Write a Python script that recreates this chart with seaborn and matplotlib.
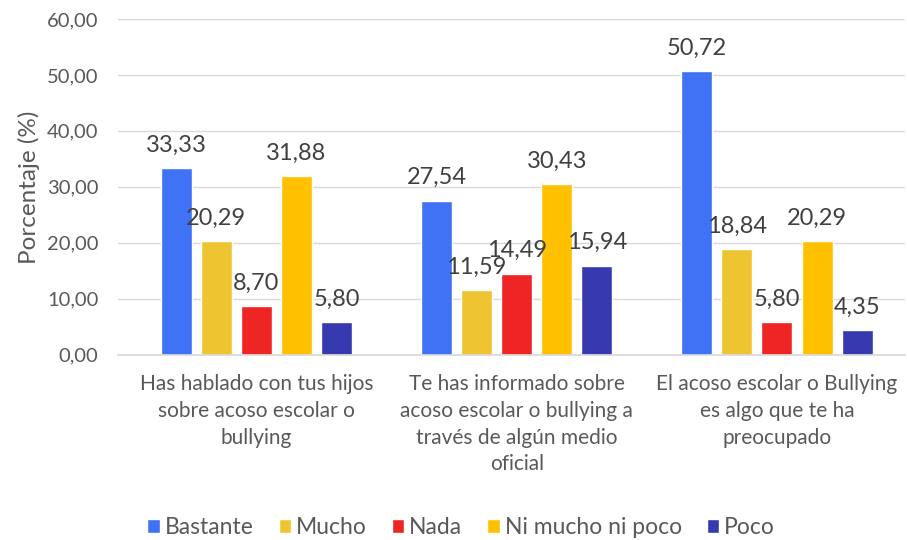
import pandas as pd
import matplotlib.pyplot as plt
import seaborn as sns

preguntas = [
    "Has hablado con tus hijos\nsobre acoso escolar o\nbullying",
    "Te has informado sobre\nacoso escolar o bullying a\ntravés de algún medio\noficial",
    "El acoso escolar o Bullying\nes algo que te ha\npreocupado",
]
respuestas = ["Bastante", "Mucho", "Nada", "Ni mucho ni poco", "Poco"]
bastante = [33.33, 27.54, 50.72]
mucho = [20.29, 11.59, 18.84]
nada = [8.70, 14.49, 5.80]
ni_mucho_ni_poco = [31.88, 30.43, 20.29]
poco = [5.80, 15.94, 4.35]

colores = ["#4072F5", "#EEC530", "#EE2524", "#FFC000", "#3639B0"]

series = [bastante, mucho, nada, ni_mucho_ni_poco, poco]
rows = []
for resp, vals in zip(respuestas, series):
    for preg, v in zip(preguntas, vals):
        rows.append({"Pregunta": preg, "Respuesta": resp, "Valor": v})
df = pd.DataFrame(rows)

sns.set_theme(style="white")
plt.rcParams["font.family"] = ["Lato", "DejaVu Sans"]

fig, ax = plt.subplots(figsize=(9.07, 5.4), dpi=100)
fig.subplots_adjust(left=118 / 907, right=905 / 907, top=0.965, bottom=0.343)

sns.barplot(data=df, x="Pregunta", y="Valor", hue="Respuesta",
            hue_order=respuestas, palette=colores, width=0.77, gap=0.225,
            saturation=1, ax=ax, legend=True)

for cont in ax.containers:
    labels = [f"{v:.2f}".replace(".", ",") for v in cont.datavalues]
    ax.bar_label(cont, labels=labels, padding=9, fontsize=17, color="#404040")

ax.set_xlim(-0.532, 2.492)
ax.set_ylim(0, 60)
ax.set_yticks(range(0, 61, 10))
ax.set_yticklabels([f"{t:.2f}".replace(".", ",") for t in range(0, 61, 10)])
ax.yaxis.grid(True, color="#D9D9D9", linewidth=1)
ax.set_axisbelow(True)
for s in ["top", "right", "left"]:
    ax.spines[s].set_visible(False)
ax.spines["bottom"].set_color("#D9D9D9")
ax.tick_params(axis="both", colors="#595959", labelsize=14.5, length=0)
ax.tick_params(axis="y", pad=14)
ax.tick_params(axis="x", pad=14, labelsize=15)
ax.set_xlabel("")
ax.set_ylabel("Porcentaje (%)", fontsize=17.5, color="#595959", labelpad=5)
for lbl in ax.get_xticklabels():
    lbl.set_linespacing(1.42)

ax.legend(loc="center", bbox_to_anchor=(0.436, -0.515), ncol=5, frameon=False,
          fontsize=16.5, handlelength=0.55, handleheight=0.55, columnspacing=1.1,
          handletextpad=0.2, labelcolor="#595959")

fig.savefig("out.png", dpi=100)
